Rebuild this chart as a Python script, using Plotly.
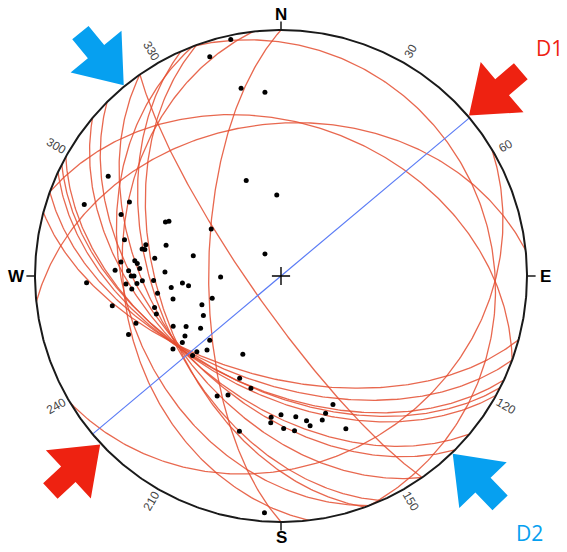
import numpy as np
import plotly.graph_objects as go

# ---------------------------------------------------------------------------
# Data (lower-hemisphere equal-area stereonet)
# ---------------------------------------------------------------------------
# Poles / lineations: trend and plunge in degrees
pole_trend = [348, 342, 348, 355, 300, 340, 357, 290, 296, 291,
              295, 296, 304, 283, 283, 281, 281, 285, 283, 324,
              278, 275, 276, 275, 273, 272, 272, 270, 270, 272,
              268, 267, 267, 265, 268, 266, 264, 269, 264, 268,
              262, 258, 252, 250, 256, 253, 243, 260, 252, 249,
              245, 242, 237, 238, 228, 236, 236, 228, 228, 225,
              206, 202, 195, 208, 204, 184, 184, 180, 179, 174,
              170, 169, 175, 164, 162, 158, 157, 195, 184]
pole_plunge = [2, 7, 23, 26, 20, 56, 63, 16, 32, 31,
               47, 48, 62, 35, 43, 42, 43, 50, 60, 81,
               47, 35, 40, 41, 42, 33, 38, 39, 40, 51,
               43, 41, 37, 39, 47, 57, 59, 70, 53, 22,
               48, 53, 66, 62, 46, 46, 61, 31, 38, 34,
               50, 54, 58, 52, 58, 50, 46, 50, 52, 55,
               61, 53, 51, 44, 46, 42, 40, 43, 38, 42,
               40, 38, 37, 39, 41, 43, 33, 35, 4]

# Planes: strike (right-hand rule) and dip in degrees
plane_strike = [180, 145, 339, 264, 290,
                105, 110, 115, 117, 119, 130, 135, 145, 156, 160,
                59, 173.5, 159]
plane_dip = [66, 80, 15, 38, 38,
             56, 54, 52, 52, 51, 49, 49, 48, 48, 49,
             25, 36, 37]

# D1 shortening direction, drawn as a vertical plane
d1_strike, d1_dip = 50, 90

# Azimuth labels round the primitive
ring_labels = [30, 60, 120, 150, 210, 240, 300, 330]
cardinal_labels = {"N": 0, "E": 90, "S": 180, "W": 270}

# Block arrows: azimuth of the tip on the primitive
d1_arrow_az = [49.5, 227]
d2_arrow_az = [320.5, 136]

RED = "#ee2211"
BLUE = "#06a0f0"
ARC = "rgba(228,78,48,0.85)"


def project(trend, plunge):
    """Equal-area (Schmidt) projection, lower hemisphere, unit primitive."""
    t = np.radians(np.asarray(trend, float))
    p = np.radians(np.asarray(plunge, float))
    r = np.sqrt(2.0) * np.sin((np.pi / 2 - p) / 2)
    return r * np.sin(t), r * np.cos(t)


def great_circle(strike, dip, n=241):
    s = np.radians(strike)
    d = np.radians(dip)
    th = np.linspace(0, np.pi, n)
    sv = np.array([np.sin(s), np.cos(s), 0.0])
    dv = np.array([np.cos(d) * np.sin(s + np.pi / 2),
                   np.cos(d) * np.cos(s + np.pi / 2),
                   np.sin(d)])
    v = np.outer(np.cos(th), sv) + np.outer(np.sin(th), dv)
    down = np.clip(v[:, 2], -1, 1)
    plunge = np.degrees(np.arcsin(down))
    trend = np.degrees(np.arctan2(v[:, 0], v[:, 1]))
    return project(trend, plunge)


def arrow_path(az, tip_r=1.005, length=0.277, head_len=0.177,
               head_hw=0.134, shaft_hw=0.043):
    a = np.radians(az)
    o = np.array([np.sin(a), np.cos(a)])       # outward
    q = np.array([np.cos(a), -np.sin(a)])      # across
    tip = o * tip_r
    local = [(0, 0), (head_len, head_hw), (head_len, shaft_hw),
             (length, shaft_hw), (length, -shaft_hw),
             (head_len, -shaft_hw), (head_len, -head_hw)]
    pts = [tip + o * u + q * w for u, w in local]
    return "M " + " L ".join(f"{x:.4f},{y:.4f}" for x, y in pts) + " Z"


fig = go.Figure()

# Great circles
for s, d in zip(plane_strike, plane_dip):
    x, y = great_circle(s, d)
    fig.add_trace(go.Scatter(x=x, y=y, mode="lines",
                             line=dict(color=ARC, width=1.3),
                             hoverinfo="skip", showlegend=False))

# D1 line
x, y = great_circle(d1_strike, d1_dip)
fig.add_trace(go.Scatter(x=x, y=y, mode="lines",
                         line=dict(color="#5b7cf5", width=1.2),
                         hoverinfo="skip", showlegend=False))

# Primitive circle
phi = np.linspace(0, 2 * np.pi, 721)
fig.add_trace(go.Scatter(x=np.sin(phi), y=np.cos(phi), mode="lines",
                         line=dict(color="#1a1a1a", width=2),
                         hoverinfo="skip", showlegend=False))

# Poles
px, py = project(pole_trend, pole_plunge)
fig.add_trace(go.Scatter(x=px, y=py, mode="markers",
                         marker=dict(color="black", size=5),
                         hoverinfo="skip", showlegend=False))

# Centre cross
fig.add_trace(go.Scatter(x=[0], y=[0], mode="markers",
                         marker=dict(symbol="cross-thin", size=13,
                                     line=dict(color="black", width=1.4)),
                         hoverinfo="skip", showlegend=False))

shapes = []
annotations = []

# Cardinal ticks and letters
for lab, az in cardinal_labels.items():
    a = np.radians(az)
    shapes.append(dict(type="line", xref="x", yref="y",
                       x0=np.sin(a), y0=np.cos(a),
                       x1=1.035 * np.sin(a), y1=1.035 * np.cos(a),
                       line=dict(color="#1a1a1a", width=1.5)))
    rr = 1.065 if lab in ("N", "S") else 1.075
    annotations.append(dict(x=rr * np.sin(a), y=rr * np.cos(a), text=f"<b>{lab}</b>",
                            showarrow=False, xref="x", yref="y",
                            font=dict(family="Liberation Sans, Arial", size=17,
                                      color="black")))

# Degree labels, written along the primitive
for az in ring_labels:
    a = np.radians(az)
    ang = az - 90
    if ang > 90:
        ang -= 180
    annotations.append(dict(x=1.055 * np.sin(a), y=1.055 * np.cos(a),
                            text=str(az), showarrow=False, textangle=ang,
                            xref="x", yref="y",
                            font=dict(family="Liberation Sans, Arial", size=12,
                                      color="#444444")))

# Block arrows
for az in d1_arrow_az:
    shapes.append(dict(type="path", path=arrow_path(az), xref="x", yref="y",
                       fillcolor=RED, line=dict(width=0), layer="above"))
for az in d2_arrow_az:
    shapes.append(dict(type="path", path=arrow_path(az), xref="x", yref="y",
                       fillcolor=BLUE, line=dict(width=0), layer="above"))

annotations.append(dict(x=1.09, y=0.925, text="D1", showarrow=False,
                        xref="x", yref="y",
                        font=dict(family="Open Sans, Arial", size=21, color=RED)))
annotations.append(dict(x=1.01, y=-1.045, text="D2", showarrow=False,
                        xref="x", yref="y",
                        font=dict(family="Open Sans, Arial", size=21, color=BLUE)))

W, H = 567, 552
cx, cy, R = 281.0, 276.0, 246.0
fig.update_layout(
    width=W, height=H,
    margin=dict(l=0, r=0, t=0, b=0),
    paper_bgcolor="white", plot_bgcolor="white",
    xaxis=dict(range=[-cx / R, (W - cx) / R], visible=False, fixedrange=True),
    yaxis=dict(range=[-(H - cy) / R, cy / R], visible=False, fixedrange=True),
    shapes=shapes, annotations=annotations,
)

fig.write_html("out.html")
